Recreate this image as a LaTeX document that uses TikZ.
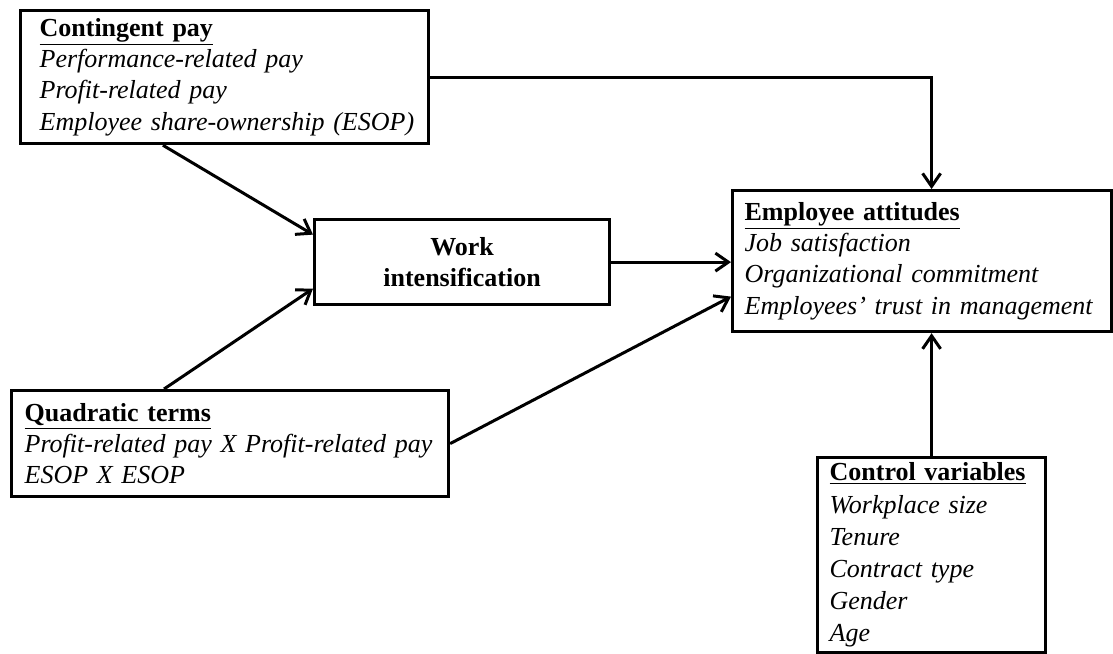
\documentclass[tikz,border=0pt]{standalone}
\usepackage{fontspec}
\setmainfont{Liberation Serif}
\usetikzlibrary{arrows.meta,calc}

\newcommand{\vhead}[1]{\underline{\textbf{#1}}}
\newcommand{\vitem}[1]{\mbox{\textit{#1}}}

\begin{document}
\begin{tikzpicture}[x=0.02cm,y=-0.02cm,
  varbox/.style={draw,line width=0.065cm,anchor=north west,align=left,
    inner xsep=0.24cm,inner ysep=0pt,font=\fontsize{14.8}{17.8}\selectfont},
  link/.style={line width=0.06cm,
    -{Straight Barb[length=0.26cm,width=0.36cm,line width=0.06cm]}}]
  %\draw[step=50,gray,very thin] (0,0) grid (1113,653);
  \useasboundingbox (0,0) rectangle (1113,653);

  \node[varbox,inner xsep=0.38cm,text width=7.4cm,minimum height=2.66cm] (cont) at (19,9)
    {\vhead{Contingent pay}\\ \vitem{Performance-related pay}\\ \vitem{Profit-related pay}\\
     \vitem{Employee share-ownership (ESOP)}};
  \node[varbox,align=center,text width=5.42cm,minimum height=1.7cm] (work) at (313,218)
    {\textbf{Work}\\ \textbf{intensification}};
  \node[varbox,text width=7.1cm,minimum height=2.82cm] (att) at (731,189)
    {\vhead{Employee attitudes}\\ \vitem{Job satisfaction}\\ \vitem{Organizational commitment}\\
     \vitem{Employees' trust in management}};
  \node[varbox,inner xsep=0.26cm,text width=8.22cm,minimum height=2.12cm] (quad) at (10,389)
    {\vhead{Quadratic terms}\\ \vitem{Profit-related pay X Profit-related pay}\\ \vitem{ESOP X ESOP}};
  \node[varbox,text width=4.08cm,minimum height=3.9cm,font=\fontsize{14.8}{18.3}\selectfont] (ctrl) at (816,456)
    {\vhead{Control variables}\\ \vitem{Workplace size}\\ \vitem{Tenure}\\ \vitem{Contract type}\\
     \vitem{Gender}\\ \vitem{Age}};

  \draw[link] (cont.east) -| (ctrl.north |- att.north);
  \draw[link] ($(cont.south west)!0.35!(cont.south east)$) -- ([yshift=0.55cm]work.west);
  \draw[link] ($(quad.north west)!0.35!(quad.north east)$) -- ([yshift=-0.53cm]work.west);
  \draw[link] (work.east) -- (work.east -| att.west);
  \draw[link] (quad.east) -- ([yshift=-0.71cm]att.west);
  \draw[link] (ctrl.north) -- (ctrl.north |- att.south);
\end{tikzpicture}
\end{document}
